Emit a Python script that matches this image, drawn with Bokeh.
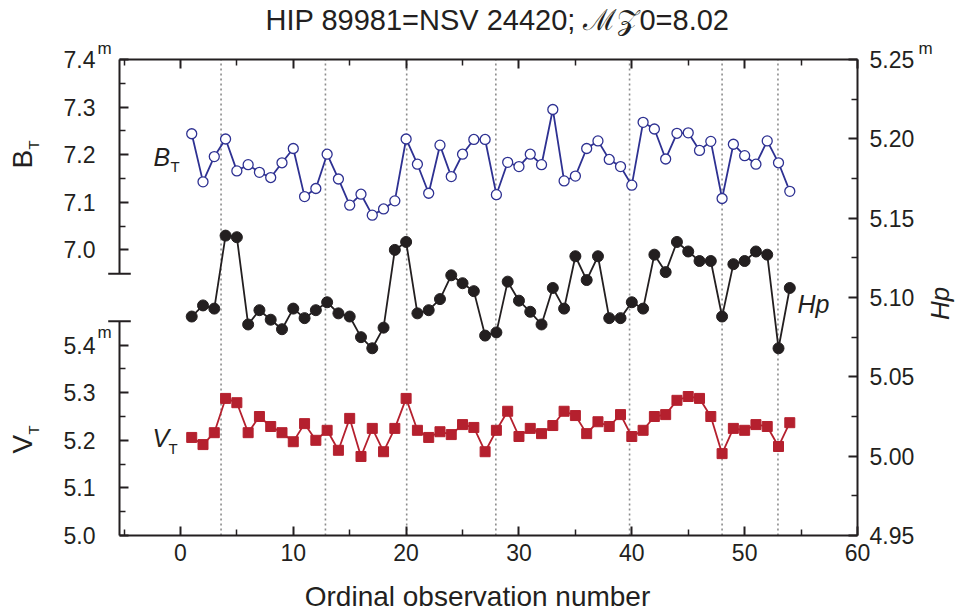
from math import pi, sin, cos
from bokeh.plotting import figure
from bokeh.models import (Range1d, LinearAxis, FixedTicker, CustomJSTickFormatter,
                          PrintfTickFormatter, Label, Arrow)
from bokeh.embed import file_html
from bokeh.resources import INLINE

# ---------------- data ----------------
OBS = list(range(1, 55))
BT = [7.244, 7.143, 7.196, 7.233, 7.166, 7.179, 7.163, 7.152, 7.183, 7.213,
      7.112, 7.129, 7.201, 7.149, 7.094, 7.117, 7.073, 7.086, 7.103, 7.233,
      7.180, 7.119, 7.220, 7.154, 7.201, 7.232, 7.232, 7.116, 7.184, 7.175,
      7.201, 7.179, 7.295, 7.145, 7.155, 7.213, 7.229, 7.190, 7.175, 7.136,
      7.268, 7.254, 7.191, 7.245, 7.246, 7.209, 7.228, 7.108, 7.222, 7.198,
      7.180, 7.229, 7.183, 7.123]
HP = [5.088, 5.095, 5.093, 5.139, 5.138, 5.083, 5.092, 5.086, 5.080, 5.093,
      5.087, 5.092, 5.097, 5.090, 5.088, 5.075, 5.068, 5.081, 5.130, 5.135,
      5.090, 5.092, 5.099, 5.114, 5.109, 5.104, 5.076, 5.078, 5.110, 5.098,
      5.091, 5.083, 5.106, 5.093, 5.126, 5.111, 5.126, 5.087, 5.087, 5.097,
      5.093, 5.127, 5.116, 5.135, 5.129, 5.123, 5.123, 5.088, 5.121, 5.123,
      5.129, 5.127, 5.068, 5.106]
VT = [5.206, 5.191, 5.216, 5.288, 5.279, 5.216, 5.250, 5.229, 5.216, 5.197,
      5.235, 5.200, 5.221, 5.179, 5.246, 5.166, 5.225, 5.176, 5.225, 5.288,
      5.221, 5.206, 5.218, 5.212, 5.233, 5.227, 5.176, 5.221, 5.261, 5.208,
      5.225, 5.214, 5.231, 5.261, 5.252, 5.214, 5.239, 5.229, 5.254, 5.208,
      5.221, 5.250, 5.254, 5.284, 5.292, 5.288, 5.250, 5.172, 5.225, 5.221,
      5.233, 5.229, 5.187, 5.237]
GAPS = [3.6, 12.85, 20.05, 27.95, 39.8, 48.0, 52.95]

X_TICKS = [0, 10, 20, 30, 40, 50, 60]
X_MINOR = [-5, 5, 15, 25, 35, 45, 55]
BT_TICKS = [7.0, 7.1, 7.2, 7.3, 7.4]
VT_TICKS = [5.0, 5.1, 5.2, 5.3, 5.4]
HP_TICKS = [4.95, 5.00, 5.05, 5.10, 5.15, 5.20, 5.25]
BT_BREAK = 6.95
VT_BREAK = 5.45

X_RANGE = (-5.4, 60)
HP_RANGE = (4.95, 5.25)
BT_RANGE = (6.4, 7.4)
VT_RANGE = (5.0, 6.0)

TITLE = "HIP 89981=NSV 24420; \u2133\U0001D4B50=8.02"
XLABEL = "Ordinal observation number"

FONT = "Liberation Sans"
INK = "#231F20"
BLUE = "#2E3192"
RED = "#B5202E"
GAP_COLOR = "#8c8c8c"

# ---------------- layout (pixels) ----------------
W, H = 958, 614
BOX_L, BOX_R, BOX_T, BOX_B = 119, 857, 59, 535   # plot box inside the canvas


def extend(lo, hi, a, b, total):
    """range whose lo/hi sit at pixels a/b of a canvas of length total"""
    k = (hi - lo) / (b - a)
    return (lo - a * k, hi + (total - b) * k)


xr = extend(*X_RANGE, BOX_L, BOX_R, W)
yb, yt = H - BOX_B, H - BOX_T
p = figure(width=W, height=H, title=None,
           x_range=Range1d(*xr), y_range=Range1d(*extend(*HP_RANGE, yb, yt, H)),
           output_backend="svg", toolbar_location=None,
           x_axis_location=None, y_axis_location=None,
           min_border_left=0, min_border_right=0, min_border_top=0, min_border_bottom=0)
p.outline_line_color = None
p.grid.visible = False
p.extra_y_ranges = {"bt": Range1d(*extend(*BT_RANGE, yb, yt, H)),
                    "vt": Range1d(*extend(*VT_RANGE, yb, yt, H))}
OFF = BT_RANGE[0] - VT_RANGE[0]


def mids(v):
    return [(a + b) / 2 for a, b in zip(v[:-1], v[1:])]


def style(ax, labels=True, standoff=8):
    ax.axis_line_width = 2
    ax.axis_line_color = INK
    ax.major_tick_in = 9
    ax.major_tick_out = 0
    ax.minor_tick_in = 6
    ax.minor_tick_out = 0
    ax.major_tick_line_width = 2
    ax.minor_tick_line_width = 1.5
    ax.major_tick_line_color = INK
    ax.minor_tick_line_color = INK
    ax.major_label_text_font = FONT
    ax.major_label_text_font_size = "23px"
    ax.major_label_text_color = INK if labels else None
    ax.major_label_standoff = standoff


xb = LinearAxis(ticker=FixedTicker(ticks=X_TICKS, minor_ticks=X_MINOR),
                fixed_location=HP_RANGE[0], bounds=X_RANGE)
style(xb, standoff=8)
p.add_layout(xb, "below")
xt = LinearAxis(ticker=FixedTicker(ticks=X_TICKS, minor_ticks=X_MINOR),
                fixed_location=HP_RANGE[1], bounds=X_RANGE)
style(xt, labels=False)
p.add_layout(xt, "above")

yr = LinearAxis(ticker=FixedTicker(ticks=HP_TICKS, minor_ticks=mids(HP_TICKS)),
                formatter=PrintfTickFormatter(format="%.2f"),
                fixed_location=X_RANGE[1], bounds=HP_RANGE)
style(yr, standoff=12)
p.add_layout(yr, "right")

left_major = BT_TICKS + [v + OFF for v in VT_TICKS]
left_minor = mids(BT_TICKS) + [v + OFF for v in mids(VT_TICKS)]
yl = LinearAxis(y_range_name="bt", fixed_location=X_RANGE[0],
                bounds=(VT_RANGE[0] + OFF, BT_RANGE[1]),
                ticker=FixedTicker(ticks=left_major, minor_ticks=left_minor),
                formatter=CustomJSTickFormatter(
                    args=dict(off=OFF, split=(BT_BREAK + VT_BREAK + OFF) / 2),
                    code="return (tick > split ? tick : tick - off).toFixed(1)"))
style(yl, standoff=24)
yl.axis_line_color = None
p.add_layout(yl, "left")

# broken left axis line with caps
x0 = X_RANGE[0]
CAP = 1.0
for rng, top, bot in (("bt", BT_RANGE[1], BT_BREAK), ("vt", VT_BREAK, VT_RANGE[0])):
    p.add_layout(Arrow(x_start=x0, y_start=top, x_end=x0, y_end=bot, end=None,
                       y_range_name=rng, line_width=2, line_color=INK))
p.add_layout(Arrow(x_start=x0 - CAP, y_start=BT_BREAK, x_end=x0 + CAP, y_end=BT_BREAK,
                   end=None, y_range_name="bt", line_width=2, line_color=INK))
p.add_layout(Arrow(x_start=x0 - CAP, y_start=VT_BREAK, x_end=x0 + CAP, y_end=VT_BREAK,
                   end=None, y_range_name="vt", line_width=2, line_color=INK))

# dotted gap markers (plot-box height)
p.segment(x0=GAPS, y0=[HP_RANGE[0]] * len(GAPS), x1=GAPS, y1=[HP_RANGE[1]] * len(GAPS),
          line_color=GAP_COLOR, line_width=1.6, line_dash="2 3", level="underlay")

# series
p.line(OBS, BT, y_range_name="bt", line_color=BLUE, line_width=1.8)
p.scatter(OBS, BT, y_range_name="bt", marker="circle", size=10, fill_color="white",
          line_color=BLUE, line_width=1.3)
p.line(OBS, HP, line_color=INK, line_width=1.8)
p.scatter(OBS, HP, marker="circle", size=11, fill_color=INK, line_color=INK)
p.line(OBS, VT, y_range_name="vt", line_color=RED, line_width=1.8)
p.scatter(OBS, VT, y_range_name="vt", marker="square", size=10, fill_color=RED, line_color=RED)

SHIFT = 0.4   # measured offset of the rendered baseline, in em


def lab(text, px, py, size, italic=False, angle=0.0, align="left"):
    """text whose baseline starts at canvas pixel (px, py) from the top-left"""
    px -= SHIFT * size * sin(angle)
    py -= SHIFT * size * cos(angle)
    p.add_layout(Label(x=px, y=H - py, x_units="screen", y_units="screen", text=text,
                       text_font=FONT, text_font_size=f"{size}px",
                       text_font_style="italic" if italic else "normal",
                       text_color=INK, angle=angle, text_align=align,
                       text_baseline="alphabetic"))


# title & axis titles
lab(TITLE, 497, 31, 29, align="center")
lab(XLABEL, 477, 607, 28, align="center")
lab("B", 33, 168, 28, angle=pi / 2)
lab("T", 39, 149, 15, angle=pi / 2)
lab("V", 33, 453, 28, angle=pi / 2)
lab("T", 39, 434, 15, angle=pi / 2)
lab("Hp", 950, 303, 26, italic=True, angle=pi / 2, align="center")

# in-plot series labels
lab("B", 153, 166, 25, italic=True)
lab("T", 170, 172, 15)
lab("V", 152, 447, 25, italic=True)
lab("T", 168, 454, 15)
lab("Hp", 797, 313, 25, italic=True)

# magnitude superscripts
lab("m", 97, 55, 17)
lab("m", 97, 339, 17)
lab("m", 918, 55, 17)

open("out.html", "w").write(file_html(p, INLINE))
